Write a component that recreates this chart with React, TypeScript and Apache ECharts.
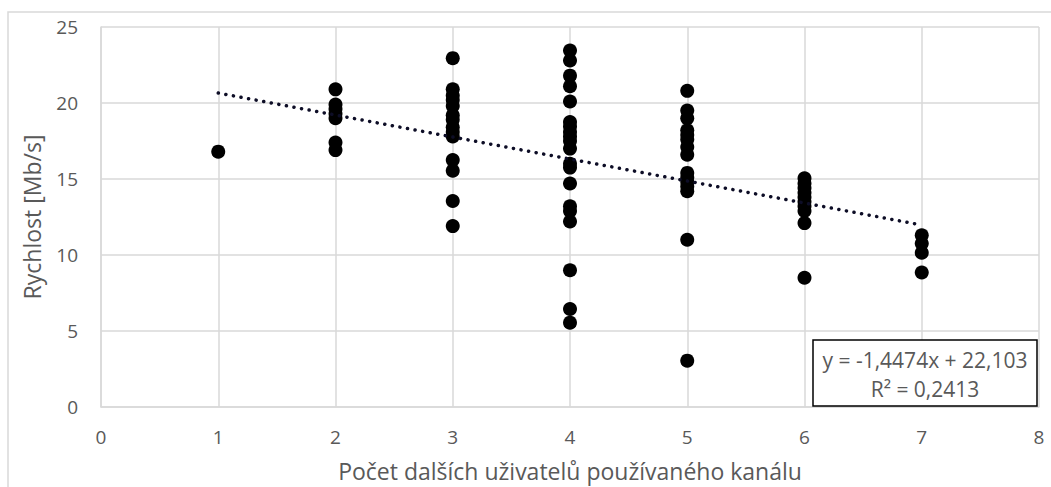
import React, { useEffect, useRef } from "react";
import * as echarts from "echarts";

const xCounts = [1, 2, 3, 4, 5, 6, 7];
const speedsAt1 = [16.8];
const speedsAt2 = [20.9, 19.9, 19.6, 19.3, 19.0, 17.4, 16.9];
const speedsAt3 = [22.95, 20.9, 20.5, 20.2, 19.8, 19.2, 18.9, 18.4, 18.1, 17.8, 16.25, 15.55, 13.55, 11.9];
const speedsAt4 = [23.45, 22.8, 21.8, 21.1, 20.1, 18.75, 18.45, 18.1, 17.8, 17.5, 17.0, 16.0, 15.75, 14.7, 13.2, 12.9, 12.2, 9.0, 6.45, 5.55];
const speedsAt5 = [20.8, 19.5, 19.0, 18.2, 17.9, 17.6, 17.1, 16.6, 15.4, 15.1, 14.8, 14.5, 14.2, 11.0, 3.05];
const speedsAt6 = [15.05, 14.7, 14.4, 14.1, 13.8, 13.5, 13.2, 12.9, 12.1, 8.5];
const speedsAt7 = [11.3, 10.75, 10.15, 8.85];
const speedGroups = [speedsAt1, speedsAt2, speedsAt3, speedsAt4, speedsAt5, speedsAt6, speedsAt7];

const trendSlope = -1.4474;
const trendIntercept = 22.103;
const trendFrom = 1;
const trendTo = 7;
const equationText = "y = -1,4474x + 22,103";
const r2Text = "R² = 0,2413";

const xTitle = "Počet dalších uživatelů používaného kanálu";
const yTitle = "Rychlost [Mb/s]";

const FONT = "'Open Sans', 'Noto Sans', sans-serif";
const TEXT = "#595959";
const GRID = "#d9d9d9";

export default function App() {
  const ref = useRef<HTMLDivElement>(null);
  useEffect(() => {
    if (!ref.current) return;
    const chart = echarts.init(ref.current, undefined, { renderer: "svg" });
    const points: number[][] = [];
    speedGroups.forEach((g, i) => g.forEach((v) => points.push([xCounts[i], v])));
    const trend = [
      [trendFrom, trendSlope * trendFrom + trendIntercept],
      [trendTo, trendSlope * trendTo + trendIntercept],
    ];
    chart.setOption({
      animation: false,
      backgroundColor: "#ffffff",
      textStyle: { fontFamily: FONT },
      grid: { left: 101, right: 12, top: 27, bottom: 80, containLabel: false },
      xAxis: {
        type: "value",
        min: 0,
        max: 8,
        interval: 1,
        name: xTitle,
        nameLocation: "middle",
        nameGap: 52,
        nameTextStyle: { color: TEXT, fontSize: 23, fontFamily: FONT },
        axisLine: { show: true, lineStyle: { color: GRID, width: 1.5 } },
        axisTick: { show: false },
        axisLabel: { color: TEXT, fontSize: 19, margin: 20, fontFamily: FONT },
        splitLine: { show: true, lineStyle: { color: GRID, width: 1.5 } },
      },
      yAxis: {
        type: "value",
        min: 0,
        max: 25,
        interval: 5,
        name: yTitle,
        nameLocation: "middle",
        nameGap: 58,
        nameTextStyle: { color: TEXT, fontSize: 23, fontFamily: FONT },
        axisLine: { show: true, lineStyle: { color: GRID, width: 1.5 } },
        axisTick: { show: false },
        axisLabel: { color: TEXT, fontSize: 19, margin: 23, fontFamily: FONT },
        splitLine: { show: true, lineStyle: { color: GRID, width: 1.5 } },
      },
      series: [
        {
          type: "scatter",
          data: points,
          symbol: "circle",
          symbolSize: 14,
          itemStyle: { color: "#000000", opacity: 1 },
          z: 3,
        },
        {
          type: "line",
          data: trend,
          showSymbol: false,
          symbol: "none",
          lineStyle: { color: "#0d0d26", width: 3.5, type: [0.1, 7.6], cap: "round" },
          z: 4,
        },
      ],
      graphic: [
        {
          type: "rect",
          shape: { x: 8, y: 12, width: 1060, height: 500 },
          style: { fill: "none", stroke: GRID, lineWidth: 1.5 },
          silent: true,
          z: 0,
        },
        {
          type: "rect",
          shape: { x: 813, y: 340, width: 224, height: 66 },
          style: { fill: "#ffffff", stroke: "#000000", lineWidth: 1.5 },
          z: 10,
        },
        {
          type: "text",
          x: 925,
          y: 360,
          style: { text: equationText, fill: TEXT, fontSize: 21, fontFamily: FONT, align: "center", verticalAlign: "middle" },
          z: 11,
        },
        {
          type: "text",
          x: 925,
          y: 389,
          style: { text: r2Text, fill: TEXT, fontSize: 21, fontFamily: FONT, align: "center", verticalAlign: "middle" },
          z: 11,
        },
      ],
    });
    return () => chart.dispose();
  }, []);
  return (
    <div
      ref={ref}
      style={{ position: "absolute", left: 0, top: 0, width: 1051, height: 487 }}
    />
  );
}
